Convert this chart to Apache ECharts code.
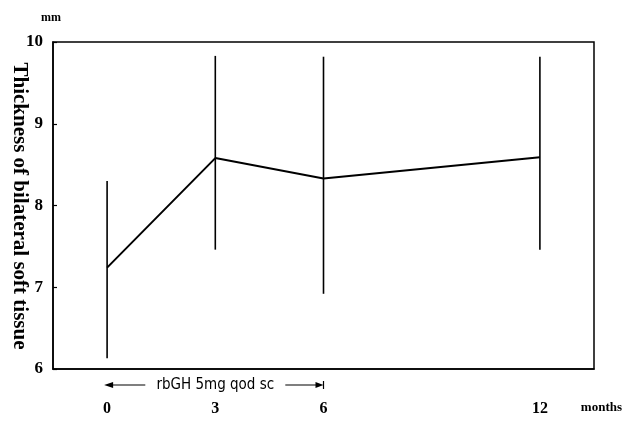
<!DOCTYPE html>
<html><head><meta charset="utf-8">
<script src="https://cdn.jsdelivr.net/npm/echarts@6/dist/echarts.min.js"></script>
<style>html,body{margin:0;padding:0;background:#fff}#c{width:623px;height:423px}</style>
</head><body><div id="c"></div>
<script>
const months = [0, 3, 6, 12];
const meanVals = [7.24, 8.58, 8.33, 8.59];
const upperVals = [8.30, 9.83, 9.82, 9.82];
const lowerVals = [6.13, 7.46, 6.92, 7.46];
const yTicks = [6, 7, 8, 9, 10];
const xTickLabels = [0, 3, 6, 12];
const yTitle = 'Thickness of bilateral soft tissue';
const annotationText = 'rbGH 5mg qod sc';
const treatStart = 0, treatEnd = 6;

const serif = 'Liberation Serif';
const chart = echarts.init(document.getElementById('c'), null, {renderer: 'canvas'});
const option = {
  animation: false,
  backgroundColor: '#fff',
  grid: {left: 53, top: 42, right: 29, bottom: 54, containLabel: false, outerBoundsMode: 'none',
    show: true, borderColor: '#000', borderWidth: 1.5, backgroundColor: 'transparent'},
  xAxis: {
    type: 'value', min: -1.5, max: 13.5,
    axisLine: {show: true, onZero: false, lineStyle: {color: '#000', width: 1.5}},
    axisTick: {show: false},
    splitLine: {show: false},
    axisLabel: {customValues: xTickLabels, margin: 32, color: '#000', fontFamily: serif, fontWeight: 'bold', fontSize: 16}
  },
  yAxis: {
    type: 'value', min: 6, max: 10, interval: 1,
    axisLine: {show: true, onZero: false, lineStyle: {color: '#000', width: 1.5}},
    axisTick: {show: true, inside: true, length: 4, lineStyle: {color: '#000', width: 1.2}},
    splitLine: {show: false},
    axisLabel: {margin: 10, color: '#000', fontFamily: serif, fontWeight: 'bold', fontSize: 17,
      formatter: v => yTicks.includes(v) ? String(v) : ''}
  },
  series: [
    {
      type: 'custom',
      data: months.map((m, i) => [m, lowerVals[i], upperVals[i]]),
      renderItem: (params, api) => {
        const x = api.value(0);
        const p1 = api.coord([x, api.value(1)]);
        const p2 = api.coord([x, api.value(2)]);
        return {type: 'line', shape: {x1: p1[0], y1: p1[1], x2: p2[0], y2: p2[1]}, style: {stroke: '#000', lineWidth: 1.6}};
      },
      z: 2
    },
    {
      type: 'line',
      data: months.map((m, i) => [m, meanVals[i]]),
      showSymbol: false, symbol: 'none',
      lineStyle: {color: '#000', width: 2},
      z: 3
    }
  ],
  graphic: [
    {type: 'text', left: 41, top: 12, style: {text: 'mm', fill: '#000', font: 'bold 12px "Liberation Serif"'}},
    {type: 'text', right: 1, top: 401, style: {text: 'months', fill: '#000', font: 'bold 13px "Liberation Serif"'}},
    {type: 'text', x: 19, y: 206, rotation: -Math.PI / 2,
      style: {text: yTitle, fill: '#000', font: 'bold 21px "Liberation Serif"', align: 'center', verticalAlign: 'middle'}}
  ]
};
chart.setOption(option);

// annotation arrow under the axis, placed from the axis scale
const xs = chart.convertToPixel({xAxisIndex: 0}, treatStart);
const xe = chart.convertToPixel({xAxisIndex: 0}, treatEnd);
const ay = 385;
const mid = (xs + xe) / 2;
const halfText = 70;
chart.setOption({graphic: option.graphic.concat([
  {type: 'polygon', shape: {points: [[xs - 3, ay], [xs + 6, ay - 3], [xs + 6, ay + 3]]}, style: {fill: '#000'}},
  {type: 'line', shape: {x1: xs + 4, y1: ay, x2: mid - halfText, y2: ay}, style: {stroke: '#000', lineWidth: 1.2}},
  {type: 'text', x: mid, y: ay, style: {text: annotationText, fill: '#000', font: '15px "DejaVu Sans Condensed"', align: 'center', verticalAlign: 'middle'}},
  {type: 'line', shape: {x1: mid + halfText, y1: ay, x2: xe - 4, y2: ay}, style: {stroke: '#000', lineWidth: 1.2}},
  {type: 'polygon', shape: {points: [[xe, ay], [xe - 8, ay - 3], [xe - 8, ay + 3]]}, style: {fill: '#000'}},
  {type: 'line', shape: {x1: xe, y1: ay - 4, x2: xe, y2: ay + 4}, style: {stroke: '#000', lineWidth: 1.2}}
])});
</script>
</body></html>
